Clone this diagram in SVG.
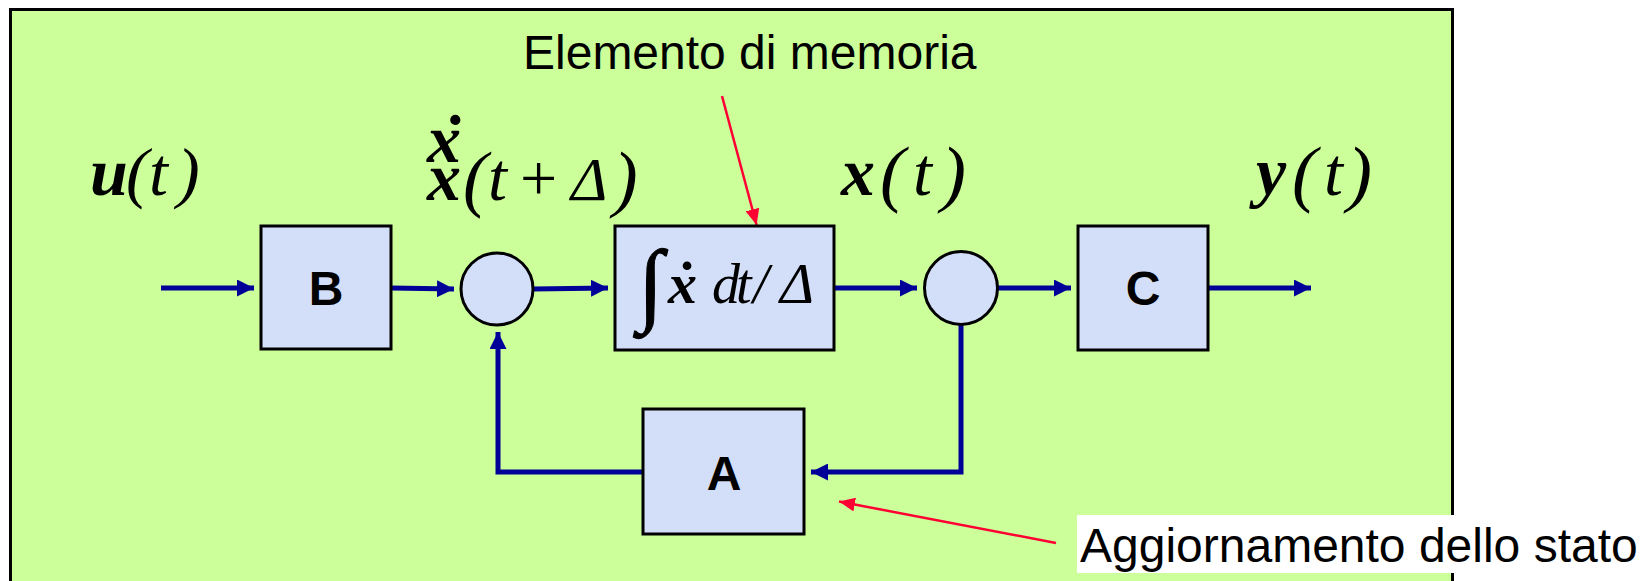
<svg xmlns="http://www.w3.org/2000/svg" width="1651" height="581" viewBox="0 0 1651 581">
<style>
.blk{fill:#D3DEF8;stroke:#000;stroke-width:3}
.lbl{font-family:"Liberation Sans",Arial,sans-serif;font-weight:bold;font-size:48px;fill:#000;text-anchor:middle}
.note{font-family:"Liberation Sans",Arial,sans-serif;font-size:48px;fill:#000}
.math{font-family:"Liberation Serif","Times New Roman",serif;font-style:italic;fill:#000}
.b{font-weight:bold}
.r{font-style:normal}
.wire{fill:none;stroke:#000099;stroke-width:5}
.red{fill:none;stroke:#FF0033;stroke-width:2.5}
</style>
<defs>
<marker id="ab" viewBox="0 0 17 17" markerWidth="17" markerHeight="17" refX="17" refY="8.5" orient="auto" markerUnits="userSpaceOnUse"><path d="M0,0 L17,8.5 L0,17 Z" fill="#000099"/></marker>
<marker id="ar" viewBox="0 0 16 14" markerWidth="16" markerHeight="14" refX="16" refY="7" orient="auto" markerUnits="userSpaceOnUse"><path d="M0,0 L16,7 L0,14 Z" fill="#FF0033"/></marker>
</defs>
<rect x="10.5" y="9.5" width="1442" height="620" fill="#CCFF99" stroke="#000" stroke-width="3"/>
<g id="connectors">
<path class="wire" d="M161,288 H254" marker-end="url(#ab)"/>
<path class="wire" d="M391,288 L454,289" marker-end="url(#ab)"/>
<path class="wire" d="M533,289 L608,288" marker-end="url(#ab)"/>
<path class="wire" d="M834,288 H917" marker-end="url(#ab)"/>
<path class="wire" d="M997,288 H1071" marker-end="url(#ab)"/>
<path class="wire" d="M1208,288 H1311" marker-end="url(#ab)"/>
<path class="wire" d="M961,324 V472 H811" marker-end="url(#ab)"/>
<path class="wire" d="M643,472 H498 V332" marker-end="url(#ab)"/>
<path class="red" d="M722,96 L756.6,225" marker-end="url(#ar)"/>
<path class="red" d="M1056,543 L839,501.5" marker-end="url(#ar)"/>
</g>
<g id="B"><rect class="blk" x="261" y="226" width="130" height="123"/><text class="lbl" x="326" y="305">B</text></g>
<g id="sum1"><circle class="blk" cx="497" cy="289" r="36"/></g>
<g id="integrator"><rect class="blk" x="615" y="226" width="219" height="124"/>
<text class="math"><tspan class="r" x="638" y="314" font-size="92" stroke="#000" stroke-width="1">∫</tspan><tspan class="b" x="668" y="303" font-size="58">x</tspan><tspan class="b" x="674" y="302" font-size="58">˙</tspan><tspan x="712" y="303" font-size="56">d</tspan><tspan x="736" y="303" font-size="56">t</tspan><tspan x="753" y="303" font-size="56">/</tspan><tspan x="780" y="303" font-size="58">Δ</tspan></text>
</g>
<g id="sum2"><circle class="blk" cx="961" cy="288" r="36.5"/></g>
<g id="C"><rect class="blk" x="1078" y="226" width="130" height="124"/><text class="lbl" x="1143" y="305">C</text></g>
<g id="A"><rect class="blk" x="643" y="409" width="161" height="125"/><text class="lbl" x="724" y="490">A</text></g>
<g id="label-u">
<text class="math" font-size="68"><tspan class="b" x="90" y="195">u</tspan><tspan x="126" y="195">(</tspan><tspan x="149" y="195">t</tspan><tspan x="177" y="195">)</tspan></text>
</g>
<g id="label-xdot">
<text class="math" font-size="68"><tspan class="b" x="427" y="162">x</tspan><tspan class="b" x="440" y="163">˙</tspan><tspan class="b" x="427" y="200">x</tspan><tspan x="463" y="203" font-size="74">(</tspan><tspan x="488" y="200">t</tspan><tspan class="r" x="520" y="200" font-size="66">+</tspan><tspan x="571" y="200" font-size="62">Δ</tspan><tspan x="613" y="203" font-size="74">)</tspan></text>
</g>
<g id="label-x">
<text class="math" font-size="68"><tspan class="b" x="841" y="195">x</tspan><tspan x="880" y="198" font-size="75">(</tspan><tspan x="913" y="195">t</tspan><tspan x="941" y="198" font-size="75">)</tspan></text>
</g>
<g id="label-y">
<text class="math" font-size="68"><tspan class="b" x="1256" y="195">y</tspan><tspan x="1292" y="198" font-size="75">(</tspan><tspan x="1324" y="195">t</tspan><tspan x="1347" y="198" font-size="75">)</tspan></text>
</g>
<g id="note-memoria"><text class="note" x="523" y="69">Elemento di memoria</text></g>
<g id="note-stato"><rect x="1077" y="515" width="574" height="58" fill="#FFFFFF"/><text class="note" x="1080" y="562">Aggiornamento dello stato</text></g>
</svg>
